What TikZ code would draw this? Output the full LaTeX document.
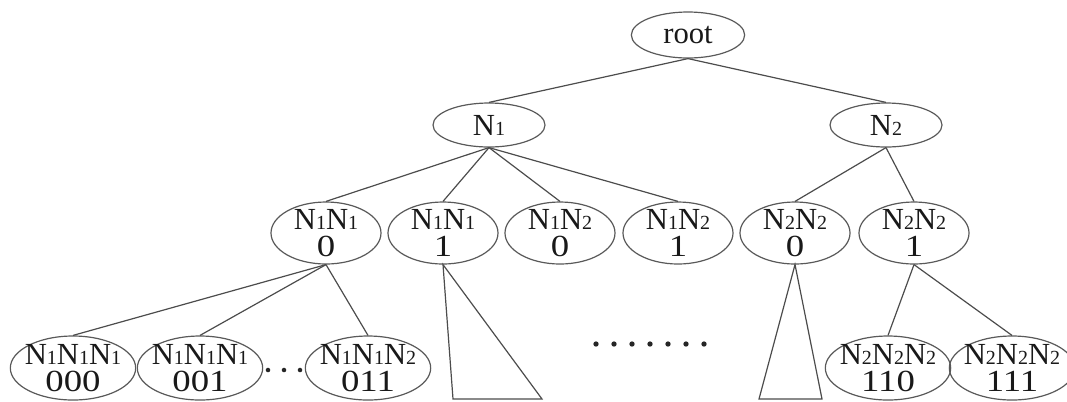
\documentclass[tikz,border=0pt]{standalone}
\usepackage{fontspec}
\setmainfont{Liberation Serif}
\usepackage{graphicx}
\usetikzlibrary{shapes.geometric}

\newcommand{\Nn}[1]{N{\fontsize{15}{15}\selectfont #1}}
\newcommand{\digs}[1]{\scalebox{1.2}[1]{#1}}

\begin{document}
\begin{tikzpicture}[x=0.75pt, y=-0.75pt,
    every node/.style={font=\fontsize{23}{20}\selectfont, text=black!90},
    every label/.style={align=center, inner sep=0pt},
    ellone/.style={draw=black!65, line width=0.9pt, ellipse, inner sep=0pt, minimum width=84pt, minimum height=33pt},
    elltwo/.style={ellone, minimum width=82.5pt, minimum height=46.5pt},
    ellthree/.style={ellone, minimum width=94pt, minimum height=48pt},
    edge/.style={draw=black!70, line width=0.9pt}]
    \useasboundingbox (0,0) rectangle (1067,401);

    \node[ellone, minimum width=85pt, minimum height=34.5pt, label=center:root] (root) at (688,35) {};
    \node[ellone, label=center:\Nn1] (n1) at (489,125) {};
    \node[ellone, label=center:\Nn2] (n2) at (886,125) {};

    \node[elltwo, label=center:{\Nn1\Nn1\\\digs0}] (n11a) at (326,233) {};
    \node[elltwo, label=center:{\Nn1\Nn1\\\digs1}] (n11b) at (443,233) {};
    \node[elltwo, label=center:{\Nn1\Nn2\\\digs0}] (n12a) at (560,233) {};
    \node[elltwo, label=center:{\Nn1\Nn2\\\digs1}] (n12b) at (678,233) {};
    \node[elltwo, label=center:{\Nn2\Nn2\\\digs0}] (n22a) at (795,233) {};
    \node[elltwo, label=center:{\Nn2\Nn2\\\digs1}] (n22b) at (914,233) {};

    \node[ellthree, label=center:{\Nn1\Nn1\Nn1\\\digs{000}}] (n111a) at (73,368) {};
    \node[ellthree, label=center:{\Nn1\Nn1\Nn1\\\digs{001}}] (n111b) at (200,368) {};
    \node[ellthree, label=center:{\Nn1\Nn1\Nn2\\\digs{011}}] (n112) at (368,368) {};
    \node[ellthree, label=center:{\Nn2\Nn2\Nn2\\\digs{110}}] (n222a) at (888,368) {};
    \node[ellthree, label=center:{\Nn2\Nn2\Nn2\\\digs{111}}] (n222b) at (1012,368) {};

    \draw[edge] (root.south) -- (n1.north);
    \draw[edge] (root.south) -- (n2.north);
    \draw[edge] (n1.south) -- (n11a.north);
    \draw[edge] (n1.south) -- (n11b.north);
    \draw[edge] (n1.south) -- (n12a.north);
    \draw[edge] (n1.south) -- (n12b.north);
    \draw[edge] (n2.south) -- (n22a.north);
    \draw[edge] (n2.south) -- (n22b.north);
    \draw[edge] (n11a.south) -- (n111a.north);
    \draw[edge] (n11a.south) -- (n111b.north);
    \draw[edge] (n11a.south) -- (n112.north);
    \draw[edge] (n22b.south) -- (n222a.north);
    \draw[edge] (n22b.south) -- (n222b.north);

    \coordinate (ta) at (453,399);
    \coordinate (tb) at (542,399);
    \coordinate (tc) at (759,399);
    \coordinate (td) at (822,399);
    \draw[edge] (n11b.south) -- (ta) -- (tb) -- cycle;
    \draw[edge] (n22a.south) -- (tc) -- (td) -- cycle;

    \foreach \x in {268,284,300}
        \fill[black!85] (\x,370) circle (1.7pt);
    \foreach \x in {0,...,6}
        \fill[black!85] (596+18*\x,344) circle (2pt);
\end{tikzpicture}
\end{document}
